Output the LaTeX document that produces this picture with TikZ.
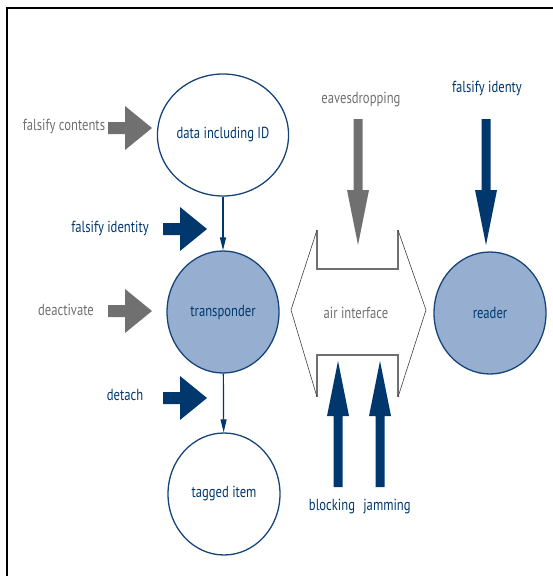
\documentclass[tikz,border=0pt]{standalone}
\usepackage{fontspec}
\setmainfont[FakeStretch=0.79]{PT Sans}
\usepackage{tikz}
\usetikzlibrary{shapes,arrows,arrows.meta,positioning}

\definecolor{navy}{RGB}{0,56,110}
\definecolor{rimblue}{RGB}{22,68,122}
\definecolor{paleblue}{RGB}{150,174,208}
\definecolor{ashgray}{RGB}{112,112,112}

\tikzset{
  station/.style={ellipse,draw=rimblue,line width=1.3pt,minimum width=112pt,minimum height=122pt,inner sep=0pt,text=navy,font=\fontsize{16}{18}\selectfont},
  active/.style={station,fill=paleblue},
  threat/.style={font=\fontsize{16}{18}\selectfont,inner sep=1pt},
  link/.style={-{Triangle[width=6pt,length=13pt]},draw=navy,line width=1.2pt},
  pushright/.pic={\fill (0,-6) -- (17,-6) -- (17,-22) -- (44,0) -- (17,22) -- (17,6) -- (0,6) -- cycle;},
  pushdown/.pic={\fill (-4.5,0) -- (-4.5,71) -- (-11,71) -- (0,126) -- (11,71) -- (4.5,71) -- (4.5,0) -- cycle;}
}

\begin{document}
\begin{tikzpicture}[x=1pt,y=-1pt]
		\useasboundingbox (0,0) rectangle (552,576);
		% frame, cut by the page
		\draw[line width=2pt] (7,600) -- (7,7.5) -- (600,7.5);
		%% the circles
		\node[station] (data) at (223,135) {data including ID};
		\node[active] (transponder) at (223,312) {transponder};
		\node[station] (item) at (224,494) {tagged item};
		\node[active] (reader) at (490,313) {reader};
		\draw[link] (data) -- (transponder);
		\draw[link] (transponder) -- (item);
		%% air interface
		\draw[ashgray,line width=1.2pt] (317,230) -- (317,269) -- (398,269) -- (398,230);
		\draw[ashgray,line width=1.2pt] (317,397) -- (317,355) -- (398,355) -- (398,397);
		\draw[black!75,line width=0.6pt,line join=miter] (317,230) -- (291,310) -- (317,397);
		\draw[black!75,line width=0.6pt,line join=miter] (398,230) -- (426,310) -- (398,397);
		\node[threat,text=ashgray] (air) at (356,313) {air interface};
		%% attacks on the tag
		\node[threat,text=ashgray] (contents) at (64,126) {falsify contents};
		\pic[ashgray] at (108,128) {pushright};
		\node[threat,text=navy] (identity) at (110,228) {falsify identity};
		\pic[navy] at (163,229) {pushright};
		\node[threat,text=ashgray] (deactivate) at (66,310) {deactivate};
		\pic[ashgray] at (108,311) {pushright};
		\node[threat,text=navy] (detach) at (125,395) {detach};
		\pic[navy] at (163,398) {pushright};
		%% attacks on air and reader
		\node[threat,text=ashgray] (eaves) at (361,100) {eavesdropping};
		\pic[ashgray] at (358,119) {pushdown};
		\node[threat,text=navy] (identy) at (487,88) {falsify identy};
		\pic[navy] at (486,119) {pushdown};
		\pic[navy,rotate=180] at (338,487) {pushdown};
		\pic[navy,rotate=180] at (380,487) {pushdown};
		\node[threat,text=navy] (blocking) at (332,507) {blocking};
		\node[threat,text=navy] (jamming) at (387,507) {jamming};
		\end{tikzpicture}
\end{document}
